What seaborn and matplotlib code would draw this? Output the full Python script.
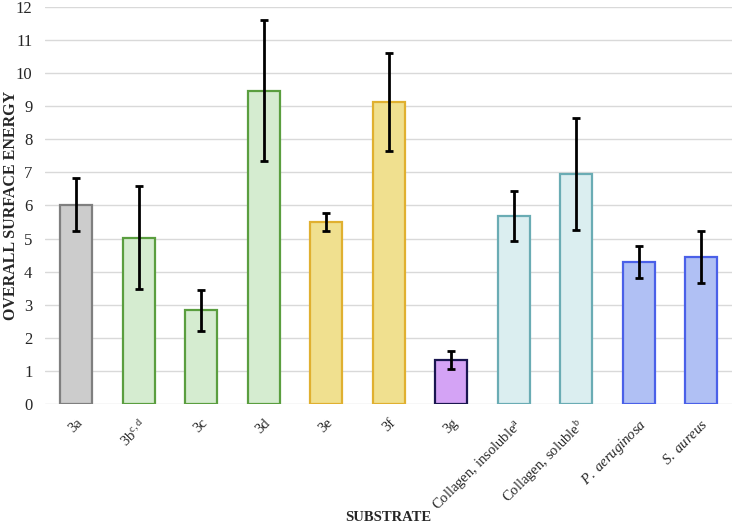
import numpy as np
import pandas as pd
import seaborn as sns
import matplotlib
matplotlib.use("Agg")
import matplotlib.pyplot as plt

substrates = ['3a', r'3b$^{\mathrm{c,d}}$', '3c', '3d', '3e', '3f', '3g',
              r'Collagen, insoluble$^{\mathrm{a}}$',
              r'Collagen, soluble$^{\mathrm{b}}$',
              r'$\it{P.\ aeruginosa}$', r'$\it{S.\ aureus}$']
energy = [6.02, 5.03, 2.83, 9.46, 5.50, 9.12, 1.33, 5.68, 6.96, 4.29, 4.45]
error = [0.80, 1.57, 0.62, 2.13, 0.27, 1.49, 0.27, 0.75, 1.69, 0.49, 0.78]

fills = ['#cccccc', '#d5ecd0', '#d5ecd0', '#d5ecd0', '#f0e08f', '#f0e08f',
         '#d4a3f5', '#dbeef0', '#dbeef0', '#b0c0f4', '#b0c0f4']
edges = ['#7f7f7f', '#5a9e3f', '#5a9e3f', '#5a9e3f', '#e0b030', '#e0b030',
         '#1a1650', '#6aacb4', '#6aacb4', '#4a60e8', '#4a60e8']

sns.set_style("white")
plt.rcParams['font.family'] = ['Liberation Serif', 'DejaVu Serif']
plt.rcParams['mathtext.fontset'] = 'custom'
plt.rcParams['mathtext.rm'] = 'Liberation Serif'
plt.rcParams['mathtext.it'] = 'Liberation Serif:italic'

df = pd.DataFrame({'substrate': substrates, 'energy': energy})

fig, ax = plt.subplots(figsize=(7.36, 5.24), dpi=100)
fig.subplots_adjust(left=0.061, right=0.995, top=0.987, bottom=0.229)

sns.barplot(data=df, x='substrate', y='energy', hue='substrate',
            palette=fills, saturation=1, width=0.51, legend=False, ax=ax,
            zorder=2)
for bar, ec in zip(ax.patches, edges):
    bar.set_edgecolor(ec)
    bar.set_linewidth(1.6)

ax.errorbar(np.arange(len(energy)), energy, yerr=error, fmt='none',
            ecolor='black', elinewidth=2, capsize=3, capthick=2, zorder=3)

ax.set_ylim(0, 12)
ax.set_xlim(-0.5, len(energy) - 0.5)
ax.set_yticks(range(0, 13))
ax.yaxis.grid(True, color='#d9d9d9', linewidth=1, zorder=0)
ax.set_axisbelow(True)
for s in ax.spines.values():
    s.set_visible(False)
ax.tick_params(axis='y', length=0, labelsize=12, pad=9)
ax.tick_params(axis='x', length=0, labelsize=10.5, pad=9)
plt.setp(ax.get_xticklabels(), rotation=45, ha='right', va='top',
         rotation_mode='anchor')

ax.set_xlabel('SUBSTRATE', fontsize=10.5, fontweight='bold')
ax.set_ylabel('OVERALL SURFACE ENERGY', fontsize=11.5, fontweight='bold')
ax.xaxis.set_label_coords(0.5, -0.27)
ax.yaxis.set_label_coords(-0.038, 0.5)

fig.savefig('out.png', dpi=100)
